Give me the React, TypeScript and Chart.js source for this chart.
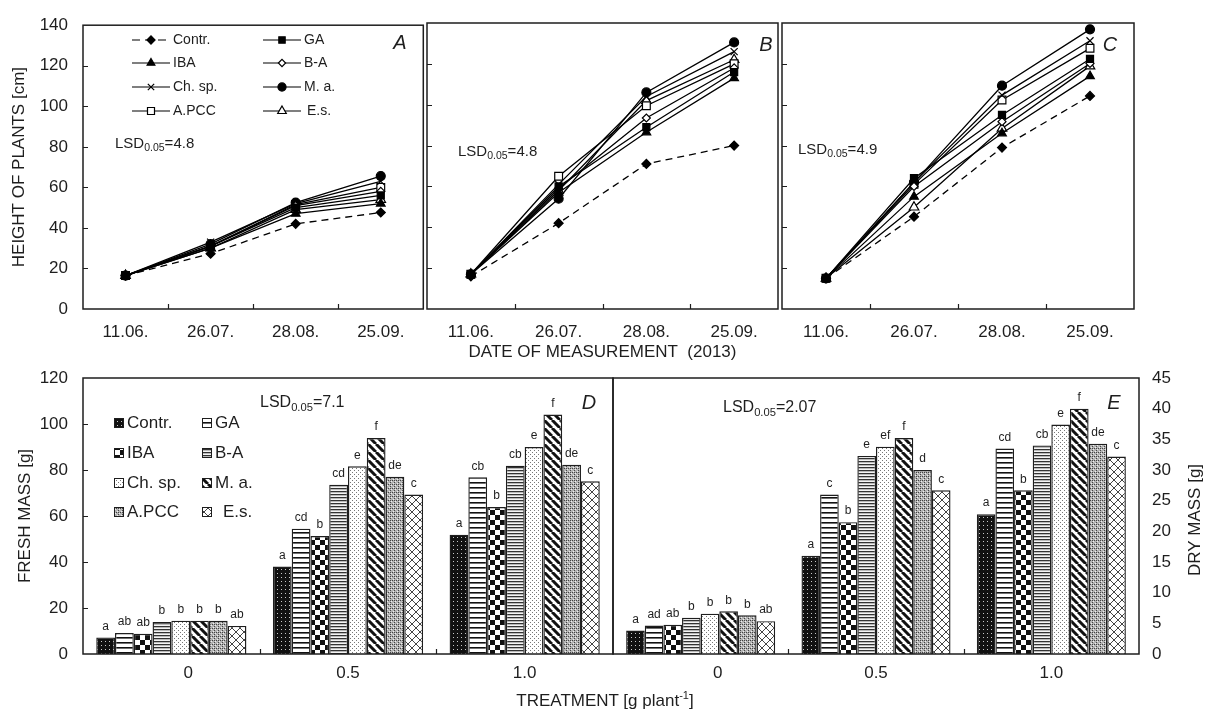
import React, { useEffect, useRef } from 'react';
import { Chart, registerables } from 'chart.js';
import { drawPoint } from 'chart.js/helpers';

Chart.register(...registerables);

const FONT = "'Liberation Sans', Arial, Helvetica, sans-serif";
const INK = '#1e1e1e';
Chart.defaults.font.family = FONT;
Chart.defaults.color = INK;

// ---------------- data ----------------
const dates = ['11.06.', '26.07.', '28.08.', '25.09.'];
const treatments = ['0', '0.5', '1.0'];
const seriesNames = ['Contr.', 'GA', 'IBA', 'B-A', 'Ch. sp.', 'M. a.', 'A.PCC', 'E.s.'];

// Panel A – height of plants [cm]
const contrA = [16.5, 27.3, 42, 47.6];
const gaA = [16.5, 31, 50, 56];
const ibaA = [16.5, 30, 47, 52];
const baA = [16.5, 31, 51, 58];
const chspA = [16.5, 33, 52, 63];
const maA = [16.5, 32, 52.5, 65.6];
const apccA = [16.5, 31, 51.5, 60];
const esA = [16.5, 30, 49, 54];

// Panel B
const contrB = [16, 42, 71, 80];
const gaB = [17, 60, 89, 116];
const ibaB = [17, 57, 86.5, 113];
const baB = [17, 59, 93.5, 118];
const chspB = [17, 61, 104, 126];
const maB = [17, 54, 106, 130.5];
const apccB = [17, 65, 99.5, 120];
const esB = [17, 58, 102, 122];

// Panel C
const contrC = [15, 45.2, 79, 104.3];
const gaC = [15, 64, 95, 122.4];
const ibaC = [15, 55, 86, 114];
const baC = [15, 60, 91.7, 120.2];
const chspC = [15, 62, 104.7, 131.3];
const maC = [15, 62, 109.3, 136.9];
const apccC = [15, 61, 102.3, 127.6];
const esC = [15, 49.8, 88.4, 118.9];

// Panel D – fresh mass [g]
const freshContr = [7.2, 38.0, 51.9];
const freshGA = [9.1, 54.5, 76.8];
const freshIBA = [8.8, 51.3, 63.9];
const freshBA = [13.9, 73.6, 81.9];
const freshChsp = [14.5, 81.6, 90.0];
const freshMa = [14.5, 93.9, 104.1];
const freshApcc = [14.5, 77.1, 82.3];
const freshEs = [12.2, 69.3, 75.1];

// Panel E – dry mass [g]
const dryContr = [3.83, 16.0, 22.8];
const dryGA = [4.65, 26.0, 33.5];
const dryIBA = [4.76, 21.5, 26.7];
const dryBA = [5.9, 32.3, 34.0];
const dryChsp = [6.57, 33.8, 37.4];
const dryMa = [6.95, 35.2, 40.0];
const dryApcc = [6.3, 30.0, 34.3];
const dryEs = [5.36, 26.7, 32.2];

// significance letters (per treatment group, per series)
const lettersD0 = ['a', 'ab', 'ab', 'b', 'b', 'b', 'b', 'ab'];
const lettersD05 = ['a', 'cd', 'b', 'cd', 'e', 'f', 'de', 'c'];
const lettersD10 = ['a', 'cb', 'b', 'cb', 'e', 'f', 'de', 'c'];
const lettersE0 = ['a', 'ad', 'ab', 'b', 'b', 'b', 'b', 'ab'];
const lettersE05 = ['a', 'c', 'b', 'e', 'ef', 'f', 'd', 'c'];
const lettersE10 = ['a', 'cd', 'b', 'cb', 'e', 'f', 'de', 'c'];

const lsdA = '4.8';
const lsdB = '4.8';
const lsdC = '4.9';
const lsdD = '7.1';
const lsdE = '2.07';

const panelA = [contrA, gaA, ibaA, baA, chspA, maA, apccA, esA];
const panelB = [contrB, gaB, ibaB, baB, chspB, maB, apccB, esB];
const panelC = [contrC, gaC, ibaC, baC, chspC, maC, apccC, esC];
const panelD = [freshContr, freshGA, freshIBA, freshBA, freshChsp, freshMa, freshApcc, freshEs];
const panelE = [dryContr, dryGA, dryIBA, dryBA, dryChsp, dryMa, dryApcc, dryEs];

// ---------------- styles ----------------
const markers = [
  { style: 'rectRot', r: 4.5, bg: '#000' },
  { style: 'rect', r: 5, bg: '#000' },
  { style: 'triangle', r: 5, bg: '#000' },
  { style: 'rectRot', r: 4, bg: '#fff' },
  { style: 'crossRot', r: 5, bg: '#000' },
  { style: 'circle', r: 4.5, bg: '#000' },
  { style: 'rect', r: 5.5, bg: '#fff' },
  { style: 'triangle', r: 5.5, bg: '#fff' },
];

function makePatterns(ctx: CanvasRenderingContext2D): CanvasPattern[] {
  const mk = (w: number, h: number, draw: (g: CanvasRenderingContext2D) => void) => {
    const c = document.createElement('canvas');
    c.width = w;
    c.height = h;
    const g = c.getContext('2d')!;
    draw(g);
    return ctx.createPattern(c, 'repeat')!;
  };
  return [
    mk(4, 4, (g) => { g.fillStyle = '#111'; g.fillRect(0, 0, 4, 4); g.fillStyle = '#c8c8c8'; g.fillRect(1, 1, 1, 1); }),
    mk(4, 5, (g) => { g.fillStyle = '#fff'; g.fillRect(0, 0, 4, 5); g.fillStyle = '#111'; g.fillRect(0, 2, 4, 1.6); }),
    mk(10, 10, (g) => { g.fillStyle = '#fff'; g.fillRect(0, 0, 10, 10); g.fillStyle = '#111'; g.fillRect(0, 0, 5, 5); g.fillRect(5, 5, 5, 5); }),
    mk(4, 3, (g) => { g.fillStyle = '#f4f4f4'; g.fillRect(0, 0, 4, 3); g.fillStyle = '#333'; g.fillRect(0, 1, 4, 1.3); }),
    mk(4, 4, (g) => { g.fillStyle = '#fff'; g.fillRect(0, 0, 4, 4); g.fillStyle = '#777'; g.fillRect(0, 0, 1, 1); g.fillRect(2, 2, 1, 1); }),
    mk(8, 8, (g) => {
      g.fillStyle = '#fff'; g.fillRect(0, 0, 8, 8);
      g.strokeStyle = '#111'; g.lineWidth = 3;
      g.beginPath();
      [-8, 0, 8].forEach((k) => { g.moveTo(k, 0); g.lineTo(k + 8, 8); });
      g.stroke();
    }),
    mk(4, 4, (g) => {
      g.fillStyle = '#b4b4b4'; g.fillRect(0, 0, 4, 4);
      g.fillStyle = '#444'; g.fillRect(0, 0, 1, 1); g.fillRect(2, 2, 1, 1); g.fillRect(2, 0, 1, 1);
      g.fillStyle = '#eee'; g.fillRect(1, 3, 1, 1); g.fillRect(3, 1, 1, 1);
    }),
    mk(8, 8, (g) => {
      g.fillStyle = '#fff'; g.fillRect(0, 0, 8, 8);
      g.strokeStyle = '#444'; g.lineWidth = 1;
      g.beginPath();
      [-8, 0, 8].forEach((k) => { g.moveTo(k, 0); g.lineTo(k + 8, 8); g.moveTo(k + 8, 0); g.lineTo(k, 8); });
      g.stroke();
    }),
  ];
}

type Part = { t: string; size: number; dy?: number; italic?: boolean };
type TextItem = { parts: Part[]; x: number; y: number; align?: 'left' | 'center'; rot?: number };

function drawRich(ctx: CanvasRenderingContext2D, it: TextItem, ox: number, oy: number) {
  ctx.save();
  ctx.translate(it.x - ox, it.y - oy);
  if (it.rot) ctx.rotate(it.rot);
  const fontOf = (p: Part) => `${p.italic ? 'italic ' : ''}${p.size}px ${FONT}`;
  let total = 0;
  it.parts.forEach((p) => { ctx.font = fontOf(p); total += ctx.measureText(p.t).width; });
  let cx = it.align === 'center' ? -total / 2 : 0;
  ctx.textBaseline = 'middle';
  ctx.textAlign = 'left';
  ctx.fillStyle = INK;
  it.parts.forEach((p) => {
    ctx.font = fontOf(p);
    ctx.fillText(p.t, cx, p.dy || 0);
    cx += ctx.measureText(p.t).width;
  });
  ctx.restore();
}

const lsd = (v: string, size: number): Part[] => [
  { t: 'LSD', size },
  { t: '0.05', size: size * 0.7, dy: size * 0.28 },
  { t: '=' + v, size },
];

function textPlugin(items: TextItem[], ox: number, oy: number) {
  return {
    id: 'texts',
    afterDraw(chart: any) {
      items.forEach((it) => drawRich(chart.ctx, it, ox, oy));
    },
  };
}

function framePlugin(yTicks: boolean) {
  return {
    id: 'frame',
    afterDraw(chart: any) {
      const { ctx, chartArea: a } = chart;
      ctx.save();
      ctx.strokeStyle = INK;
      ctx.lineWidth = 1.5;
      ctx.strokeRect(a.left, a.top, a.right - a.left, a.bottom - a.top);
      ctx.lineWidth = 1.2;
      const n = chart.data.labels.length;
      const w = (a.right - a.left) / n;
      ctx.beginPath();
      for (let i = 1; i < n; i++) {
        const x = Math.round(a.left + i * w) + 0.5;
        ctx.moveTo(x, a.bottom);
        ctx.lineTo(x, a.bottom - 5);
      }
      if (yTicks) {
        const s = chart.scales.y;
        s.ticks.forEach((_t: any, i: number) => {
          const y = Math.round(s.getPixelForTick(i)) + 0.5;
          if (y > a.top + 2 && y < a.bottom - 2) {
            ctx.moveTo(a.left, y);
            ctx.lineTo(a.left + 5, y);
          }
        });
      }
      ctx.stroke();
      ctx.restore();
    },
  };
}

function lineLegendPlugin(ox: number, oy: number) {
  const rows = [40, 63, 87, 111];
  return {
    id: 'lineLegend',
    afterDraw(chart: any) {
      const ctx: CanvasRenderingContext2D = chart.ctx;
      seriesNames.forEach((name, i) => {
        const col = i % 2;
        const y = rows[Math.floor(i / 2)] - oy;
        const x0 = (col ? 263 : 132) - ox;
        const x1 = (col ? 301 : 170) - ox;
        ctx.save();
        ctx.strokeStyle = '#000';
        ctx.lineWidth = 1.2;
        ctx.setLineDash(i === 0 ? [8, 5] : []);
        ctx.beginPath();
        ctx.moveTo(x0, y);
        ctx.lineTo(x1, y);
        ctx.stroke();
        ctx.setLineDash([]);
        const m = markers[i];
        ctx.fillStyle = m.bg;
        ctx.strokeStyle = '#000';
        ctx.lineWidth = 1.2;
        drawPoint(ctx, { pointStyle: m.style as any, radius: m.r * 0.9, rotation: 0, borderWidth: 1.2 } as any, (x0 + x1) / 2, y);
        ctx.fillStyle = INK;
        ctx.font = `14px ${FONT}`;
        ctx.textBaseline = 'middle';
        ctx.textAlign = 'left';
        ctx.fillText(name, x1 + 3 + (i === 7 ? 3 : 0), y);
        ctx.restore();
      });
    },
  };
}

function barLegendPlugin(pats: CanvasPattern[], ox: number, oy: number) {
  const rows = [423, 453, 483, 512];
  return {
    id: 'barLegend',
    afterDraw(chart: any) {
      const ctx: CanvasRenderingContext2D = chart.ctx;
      seriesNames.forEach((name, i) => {
        const col = i % 2;
        const y = rows[Math.floor(i / 2)] - oy;
        const x = (col ? 202 : 114) - ox;
        ctx.save();
        ctx.fillStyle = pats[i];
        ctx.fillRect(x, y - 5, 10, 10);
        ctx.strokeStyle = INK;
        ctx.lineWidth = 1;
        ctx.strokeRect(x + 0.5, y - 4.5, 9, 9);
        ctx.fillStyle = INK;
        ctx.font = `17px ${FONT}`;
        ctx.textBaseline = 'middle';
        ctx.textAlign = 'left';
        ctx.fillText(name, x + 13 + (i === 7 ? 8 : 0), y);
        ctx.restore();
      });
    },
  };
}

function barLettersPlugin(letters: string[][]) {
  return {
    id: 'barLetters',
    afterDatasetsDraw(chart: any) {
      const ctx: CanvasRenderingContext2D = chart.ctx;
      ctx.save();
      ctx.font = `12px ${FONT}`;
      ctx.fillStyle = INK;
      ctx.textAlign = 'center';
      ctx.textBaseline = 'middle';
      chart.data.datasets.forEach((_ds: any, d: number) => {
        chart.getDatasetMeta(d).data.forEach((el: any, g: number) => {
          ctx.fillText(letters[g][d], el.x, el.y - 11);
        });
      });
      ctx.restore();
    },
  };
}

// ---------------- chart configs ----------------
const tickFont = { size: 17, family: FONT };

function lineConfig(
  series: number[][],
  o: { yLabels: boolean; yWidth: number; padRight: number; xHeight: number; yTitle?: string; xTitle?: string; texts: TextItem[]; ox: number; legend?: boolean }
): any {
  const plugins: any[] = [framePlugin(true), textPlugin(o.texts, o.ox, 0)];
  if (o.legend) plugins.push(lineLegendPlugin(o.ox, 0));
  return {
    type: 'line',
    data: {
      labels: dates,
      datasets: series.map((d, i) => ({
        label: seriesNames[i],
        data: d,
        borderColor: '#000',
        borderWidth: 1.3,
        borderDash: i === 0 ? [7, 5] : [],
        pointStyle: markers[i].style,
        pointRadius: markers[i].r,
        pointBackgroundColor: markers[i].bg,
        pointBorderColor: '#000',
        pointBorderWidth: 1.2,
        tension: 0,
        fill: false,
      })),
    },
    options: {
      responsive: false,
      animation: false,
      events: [],
      layout: { padding: { top: 23, right: o.padRight, left: 0, bottom: 0 } },
      plugins: { legend: { display: false }, tooltip: { enabled: false } },
      scales: {
        x: {
          type: 'category',
          offset: true,
          grid: { display: false, drawTicks: false },
          border: { display: false },
          ticks: { font: tickFont, color: INK, padding: 13, maxRotation: 0, autoSkip: false },
          title: o.xTitle
            ? { display: true, text: o.xTitle, font: { size: 17, family: FONT }, color: INK, padding: { top: 0, bottom: 7 } }
            : { display: false },
          afterFit: (s: any) => { s.height = o.xHeight; },
        },
        y: {
          min: 0,
          max: 140,
          grid: { display: false, drawTicks: false },
          border: { display: false },
          ticks: { stepSize: 20, display: o.yLabels, font: tickFont, color: INK, padding: 15 },
          title: o.yTitle
            ? { display: true, text: o.yTitle, font: { size: 17, family: FONT }, color: INK, padding: { top: 9, bottom: 0 } }
            : { display: false },
          afterFit: (s: any) => { s.width = o.yWidth; },
        },
      },
    },
    plugins,
  };
}

function barConfig(
  ctx: CanvasRenderingContext2D,
  series: number[][],
  letters: string[][],
  o: { right: boolean; texts: TextItem[]; ox: number; legend?: boolean }
): any {
  const pats = makePatterns(ctx);
  const plugins: any[] = [framePlugin(!o.right), textPlugin(o.texts, o.ox, 340), barLettersPlugin(letters)];
  if (o.legend) plugins.push(barLegendPlugin(pats, o.ox, 340));
  const yScale: any = o.right
    ? {
        position: 'right',
        min: 0,
        max: 45,
        grid: { display: false, drawTicks: false },
        border: { display: false },
        ticks: { stepSize: 5, font: tickFont, color: INK, padding: 13 },
        afterFit: (s: any) => { s.width = 69; },
      }
    : {
        position: 'left',
        min: 0,
        max: 120,
        grid: { display: false, drawTicks: false },
        border: { display: false },
        ticks: { stepSize: 20, font: tickFont, color: INK, padding: 15 },
        title: { display: true, text: 'FRESH MASS [g]', font: { size: 17, family: FONT }, color: INK, padding: { top: 15, bottom: 0 } },
        afterFit: (s: any) => { s.width = 83; },
      };
  return {
    type: 'bar',
    data: {
      labels: treatments,
      datasets: series.map((d, i) => ({
        label: seriesNames[i],
        data: d,
        backgroundColor: pats[i],
        borderColor: INK,
        borderWidth: 1.4,
        categoryPercentage: 0.85,
        barPercentage: 1,
      })),
    },
    options: {
      responsive: false,
      animation: false,
      events: [],
      layout: { padding: { top: 38, right: o.right ? 0 : 7, left: o.right ? 7 : 0, bottom: 0 } },
      plugins: { legend: { display: false }, tooltip: { enabled: false } },
      scales: {
        x: {
          grid: { display: false, drawTicks: false },
          border: { display: false },
          ticks: {
            font: tickFont,
            color: INK,
            padding: 9,
            maxRotation: 0,
            callback: (_v: any, i: number) => (i === 0 ? '\u2003\u2003' + treatments[i] : treatments[i]),
          },
          afterFit: (s: any) => { s.height = 57; },
        },
        y: yScale,
      },
    },
    plugins,
  };
}

// ---------------- components ----------------
function ChartBox({ left, top, width, height, make }: { left: number; top: number; width: number; height: number; make: (ctx: CanvasRenderingContext2D) => any }) {
  const ref = useRef<HTMLCanvasElement>(null);
  useEffect(() => {
    const c = ref.current!;
    const ctx = c.getContext('2d')!;
    const chart = new Chart(ctx, make(ctx));
    return () => chart.destroy();
  }, []);
  return <canvas ref={ref} width={width} height={height} style={{ position: 'absolute', left, top, width, height }} />;
}

export default function App() {
  const italic = (t: string): Part[] => [{ t, size: 20, italic: true }];
  return (
    <div style={{ position: 'fixed', left: 0, top: 0, width: 1208, height: 711, background: '#fff', overflow: 'hidden' }}>
      <ChartBox
        left={0}
        top={0}
        width={430}
        height={345}
        make={() =>
          lineConfig(panelA, {
            yLabels: true,
            yWidth: 83,
            padRight: 3,
            xHeight: 36,
            yTitle: 'HEIGHT OF PLANTS [cm]',
            ox: 0,
            legend: true,
            texts: [
              { parts: lsd(lsdA, 15), x: 115, y: 144 },
              { parts: italic('A'), x: 400, y: 43, align: 'center' },
            ],
          })
        }
      />
      <ChartBox
        left={420}
        top={0}
        width={370}
        height={370}
        make={() =>
          lineConfig(panelB, {
            yLabels: false,
            yWidth: 7,
            padRight: 12,
            xHeight: 61,
            xTitle: 'DATE OF MEASUREMENT  (2013)',
            ox: 420,
            texts: [
              { parts: lsd(lsdB, 15), x: 458, y: 152 },
              { parts: italic('B'), x: 766, y: 45, align: 'center' },
            ],
          })
        }
      />
      <ChartBox
        left={775}
        top={0}
        width={370}
        height={345}
        make={() =>
          lineConfig(panelC, {
            yLabels: false,
            yWidth: 7,
            padRight: 11,
            xHeight: 36,
            ox: 775,
            texts: [
              { parts: lsd(lsdC, 15), x: 798, y: 150 },
              { parts: italic('C'), x: 1110, y: 45, align: 'center' },
            ],
          })
        }
      />
      <ChartBox
        left={0}
        top={340}
        width={620}
        height={371}
        make={(ctx) =>
          barConfig(ctx, panelD, [lettersD0, lettersD05, lettersD10], {
            right: false,
            ox: 0,
            legend: true,
            texts: [
              { parts: lsd(lsdD, 16), x: 260, y: 403 },
              { parts: italic('D'), x: 589, y: 403, align: 'center' },
            ],
          })
        }
      />
      <ChartBox
        left={606}
        top={340}
        width={602}
        height={371}
        make={(ctx) =>
          barConfig(ctx, panelE, [lettersE0, lettersE05, lettersE10], {
            right: true,
            ox: 606,
            texts: [
              { parts: lsd(lsdE, 16), x: 723, y: 408 },
              { parts: italic('E'), x: 1114, y: 403, align: 'center' },
              { parts: [{ t: 'DRY MASS [g]', size: 17 }], x: 1195, y: 520, align: 'center', rot: -Math.PI / 2 },
            ],
          })
        }
      />
      <div
        style={{
          position: 'absolute',
          left: 0,
          top: 691,
          width: 1210,
          textAlign: 'center',
          fontFamily: FONT,
          fontSize: 17,
          lineHeight: '20px',
          color: INK,
        }}
      >
        TREATMENT [g plant<sup style={{ fontSize: 11, lineHeight: 0 }}>-1</sup>]
      </div>
    </div>
  );
}
